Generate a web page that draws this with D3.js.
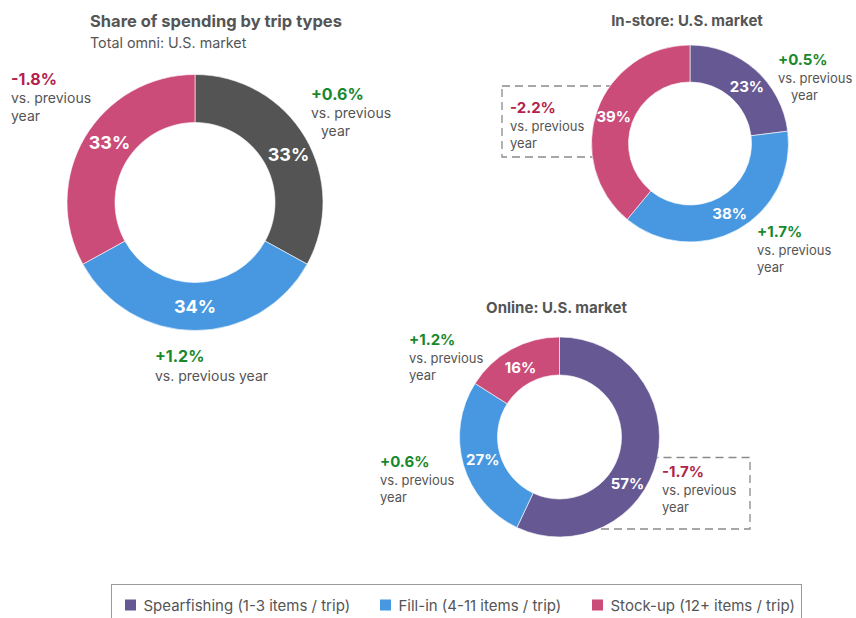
<!DOCTYPE html>
<html>
<head>
<meta charset="utf-8">
<script src="https://cdn.jsdelivr.net/npm/d3@7"></script>
<style>
  html, body { margin: 0; padding: 0; background: #fff; }
  svg { display: block; font-family: Inter, "Noto Sans", sans-serif; }
</style>
</head>
<body>
<svg id="chart" width="856" height="618"></svg>
<script>
// Trip types, in clockwise order from 12 o'clock
const tripTypes = ["Spearfishing (1-3 items / trip)", "Fill-in (4-11 items / trip)", "Stock-up (12+ items / trip)"];
const tripColors = ["#665893", "#4798e1", "#cb4b79"];
const totalColors = ["#545454", "#4798e1", "#cb4b79"];

// Share of spending (%)
const totalShare = [33, 34, 33];
const inStoreShare = [23, 38, 39];
const onlineShare = [57, 27, 16];

// Change vs. previous year (percentage points)
const totalChange = [0.6, 1.2, -1.8];
const inStoreChange = [0.5, 1.7, -2.2];
const onlineChange = [-1.7, 0.6, 1.2];

const titles = {
  total: "Share of spending by trip types",
  totalSub: "Total omni: U.S. market",
  inStore: "In-store: U.S. market",
  online: "Online: U.S. market"
};

const GREEN = "#17892c", RED = "#b1234b", GREY_TXT = "#555555";
const fmtChange = d => (d > 0 ? "+" : "") + d.toFixed(1) + "%";

const svg = d3.select("#chart");
// Callout frames live on a layer beneath the rings
const frameLayer = svg.append("g").attr("class", "frames");

// Each donut: geometry plus where its annotations sit
const donuts = [
  {
    key: "total", values: totalShare, changes: totalChange, colors: totalColors,
    cx: 195, cy: 202.5, r: 128, ir: 80, pctSize: 18,
    labelNudge: [[4, 5], [0, 0], [4, -7]],
    notes: [
      { x: 311, y: 100, lines: ["vs. previous", "year"], indent: [0, 10], size: 16, sub: 14, lh: 18 },
      { x: 155, y: 362, lines: ["vs. previous year"], indent: [0], size: 16, sub: 14, lh: 19 },
      { x: 11, y: 85, lines: ["vs. previous", "year"], indent: [0, 0], size: 16, sub: 14, lh: 18 }
    ]
  },
  {
    key: "inStore", values: inStoreShare, changes: inStoreChange, colors: tripColors,
    cx: 690, cy: 143.5, r: 98.5, ir: 61.5, pctSize: 15,
    labelNudge: [[4, 3], [1, 0], [-1, 0]],
    title: { y: 26 },
    notes: [
      { x: 778, y: 65, lines: ["vs. previous", "year"], indent: [0, 13], size: 15, sub: 13, lh: 17.5 },
      { x: 757, y: 237, lines: ["vs. previous", "year"], indent: [0, 0], size: 15, sub: 13, lh: 17.5 },
      { x: 510, y: 113, lines: ["vs. previous", "year"], indent: [0, 0], size: 15, sub: 13, lh: 17.5,
        box: { x0: 502, y0: 86, y1: 157 } }
    ]
  },
  {
    key: "online", values: onlineShare, changes: onlineChange, colors: tripColors,
    cx: 559.5, cy: 437, r: 100, ir: 62, pctSize: 15,
    labelNudge: [[-11, 29], [1, 0], [0, 2]],
    title: { y: 313 },
    notes: [
      { x: 662, y: 477, lines: ["vs. previous", "year"], indent: [0, 0], size: 15, sub: 13, lh: 17.5,
        box: { x1: 750, y0: 457.5, y1: 529 } },
      { x: 380, y: 467, lines: ["vs. previous", "year"], indent: [0, 0], size: 15, sub: 13, lh: 17.5 },
      { x: 409, y: 345, lines: ["vs. previous", "year"], indent: [0, 0], size: 15, sub: 13, lh: 17.5 }
    ]
  }
];

// Main title block (top-left)
svg.append("text").attr("x", 90).attr("y", 27)
  .attr("font-size", 16.5).attr("font-weight", 700).attr("fill", GREY_TXT)
  .text(titles.total);
svg.append("text").attr("x", 90).attr("y", 48)
  .attr("font-size", 14.3).attr("fill", GREY_TXT)
  .text(titles.totalSub);

const pie = d3.pie().sort(null).value(d => d);

donuts.forEach(cfg => {
  if (cfg.title) {
    svg.append("text").attr("x", cfg.cx - 3).attr("y", cfg.title.y)
      .attr("text-anchor", "middle").attr("font-size", 15).attr("font-weight", 700)
      .attr("fill", GREY_TXT).text(titles[cfg.key]);
  }

  // Dashed callout frame, partly hidden behind the ring
  cfg.notes.forEach(n => {
    if (!n.box) return;
    const b = n.box;
    const x0 = b.x0 !== undefined ? b.x0 : cfg.cx;
    const x1 = b.x1 !== undefined ? b.x1 : cfg.cx;
    frameLayer.append("rect")
      .attr("x", x0).attr("y", b.y0).attr("width", x1 - x0).attr("height", b.y1 - b.y0)
      .attr("fill", "none").attr("stroke", "#8a8a8a").attr("stroke-width", 1.3)
      .attr("stroke-dasharray", "8,5");
  });

  const g = svg.append("g").attr("transform", `translate(${cfg.cx},${cfg.cy})`);

  // White hole covers the frame inside the ring
  g.append("circle").attr("r", cfg.ir).attr("fill", "#fff");

  const arcs = pie(cfg.values);
  const arc = d3.arc().innerRadius(cfg.ir).outerRadius(cfg.r);

  g.selectAll("path.slice").data(arcs).join("path")
    .attr("class", "slice")
    .attr("d", arc)
    .attr("fill", (d, i) => cfg.colors[i])
    .attr("stroke", "#fff").attr("stroke-width", 0.6);

  g.selectAll("text.pct").data(arcs).join("text")
    .attr("class", "pct")
    .attr("transform", (d, i) => {
      const [x, y] = arc.centroid(d);
      const [nx, ny] = cfg.labelNudge[i];
      return `translate(${x + nx},${y + ny})`;
    })
    .attr("text-anchor", "middle").attr("dy", "0.36em")
    .attr("font-size", cfg.pctSize).attr("font-weight", 700).attr("fill", "#fff")
    .text(d => d.data + "%");

  // Year-over-year annotations
  cfg.notes.forEach((n, i) => {
    const change = cfg.changes[i];
    const t = svg.append("text").attr("x", n.x).attr("y", n.y);
    t.append("tspan").attr("x", n.x)
      .attr("font-size", n.size).attr("font-weight", 700)
      .attr("fill", change >= 0 ? GREEN : RED)
      .text(fmtChange(change));
    n.lines.forEach((line, k) => {
      t.append("tspan").attr("x", n.x + n.indent[k]).attr("dy", n.lh)
        .attr("font-size", n.sub).attr("fill", GREY_TXT).text(line);
    });
  });
});

// Legend
const legend = svg.append("g");
legend.append("rect").attr("x", 111.5).attr("y", 584.5).attr("width", 690).attr("height", 50)
  .attr("fill", "none").attr("stroke", "#9a9a9a").attr("stroke-width", 1);
const legendX = [125, 380, 592];
tripTypes.forEach((name, i) => {
  legend.append("rect").attr("x", legendX[i]).attr("y", 599.5).attr("width", 11).attr("height", 11)
    .attr("fill", tripColors[i]);
  legend.append("text").attr("x", legendX[i] + 18.5).attr("y", 611)
    .attr("font-size", 15).attr("fill", GREY_TXT)
    .text(name);
});
</script>
</body>
</html>
